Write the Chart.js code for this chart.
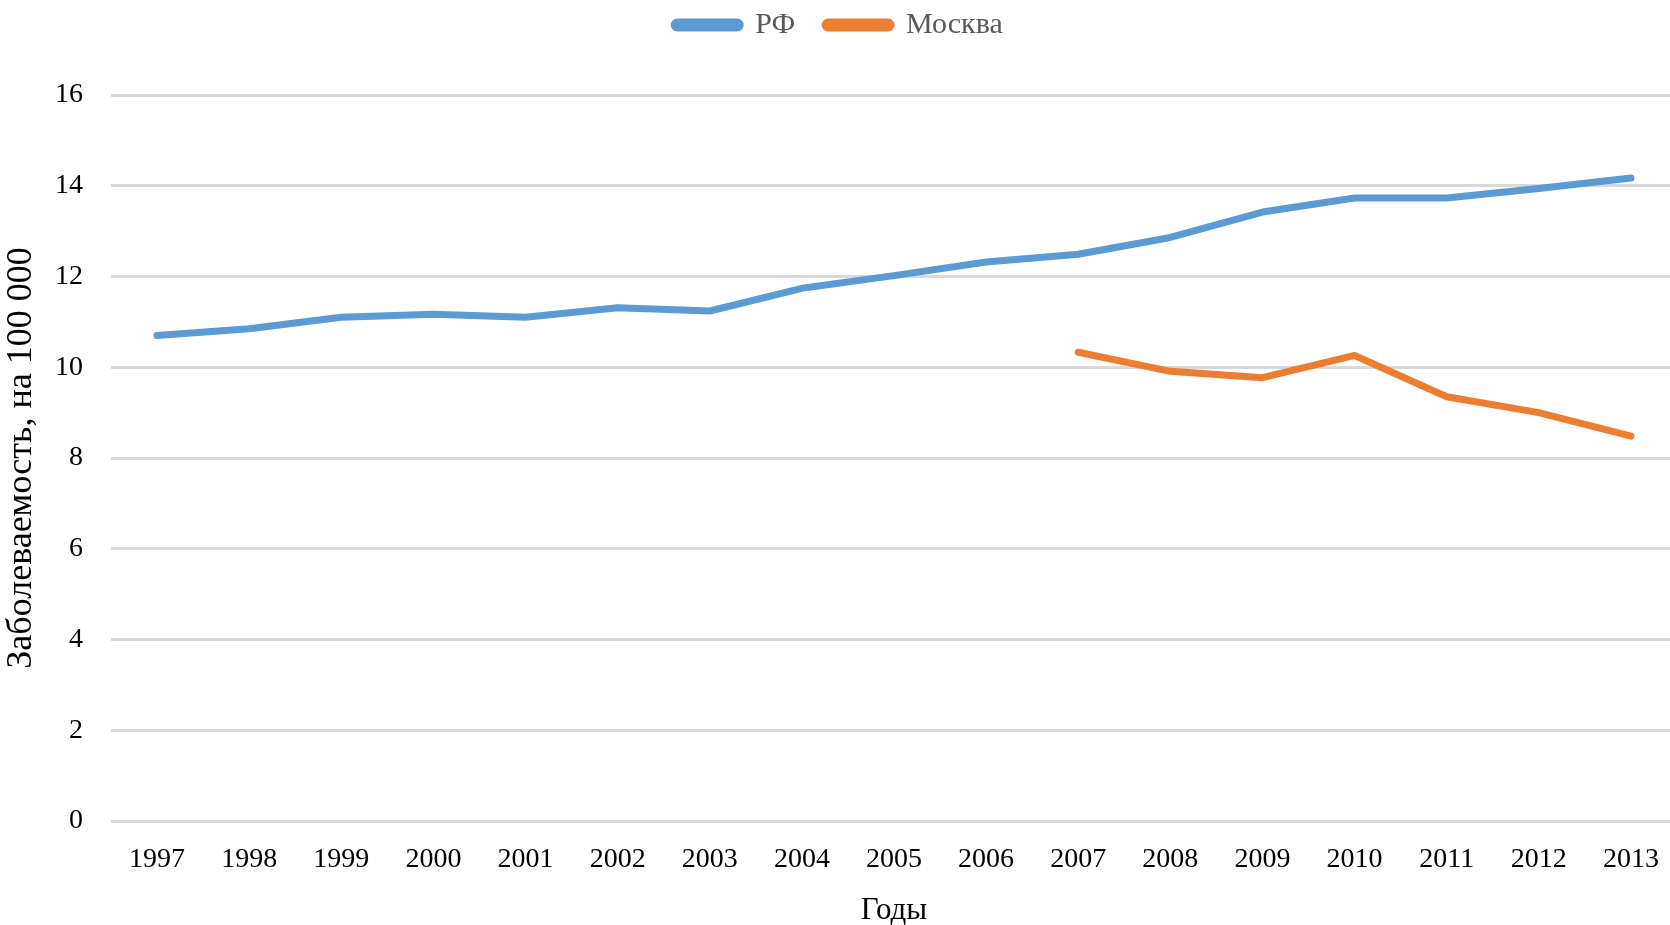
<!DOCTYPE html>
<html>
<head>
<meta charset="utf-8">
<script src="https://cdn.jsdelivr.net/npm/chart.js@4"></script>
<style>
  html, body { margin: 0; padding: 0; background: #ffffff; overflow: hidden; }
  #wrap { width: 1670px; height: 925px; overflow: hidden; }
</style>
</head>
<body>
<div id="wrap"><canvas id="c" width="1677" height="925"></canvas></div>
<script>
const years = ['1997','1998','1999','2000','2001','2002','2003','2004','2005','2006','2007','2008','2009','2010','2011','2012','2013'];
const rfValues = [10.70, 10.85, 11.10, 11.17, 11.10, 11.31, 11.24, 11.74, 12.02, 12.32, 12.49, 12.86, 13.42, 13.73, 13.73, 13.94, 14.17];
const moscowValues = [null, null, null, null, null, null, null, null, null, null, 10.33, 9.91, 9.77, 10.26, 9.35, 9.00, 8.48];
const seriesNames = ['РФ', 'Москва'];
const yTitle = 'Заболеваемость, на 100 000';
const xTitle = 'Годы';

const FONT = "'Liberation Serif', 'Times New Roman', serif";

const legendSpacer = {
  id: 'legendSpacer',
  beforeInit(chart) {
    const origFit = chart.legend.fit;
    chart.legend.fit = function () {
      origFit.bind(chart.legend)();
      this.height += 45;
    };
  }
};

new Chart(document.getElementById('c'), {
  type: 'line',
  data: {
    labels: years,
    datasets: [
      { label: seriesNames[0], data: rfValues, borderColor: '#5B9BD5', backgroundColor: '#5B9BD5',
        borderWidth: 7, pointRadius: 0, tension: 0, borderCapStyle: 'round', borderJoinStyle: 'round' },
      { label: seriesNames[1], data: moscowValues, borderColor: '#ED7D31', backgroundColor: '#ED7D31',
        borderWidth: 7, pointRadius: 0, tension: 0, borderCapStyle: 'round', borderJoinStyle: 'round', spanGaps: false }
    ]
  },
  plugins: [legendSpacer],
  options: {
    responsive: false,
    animation: false,
    layout: { padding: { top: -20, right: 0, left: 0, bottom: 0 } },
    plugins: {
      tooltip: { enabled: false },
      legend: {
        position: 'top',
        labels: {
          color: '#595959',
          font: { family: FONT, size: 30 },
          boxWidth: 66, boxHeight: 6, padding: 30,
          useBorderRadius: true, borderRadius: 3
        }
      }
    },
    scales: {
      x: {
        offset: true,
        grid: { display: false, drawTicks: false },
        border: { display: false },
        ticks: { color: '#000', font: { family: FONT, size: 28 }, padding: 22, maxRotation: 0, autoSkip: false },
        title: { display: true, text: xTitle, color: '#000', font: { family: FONT, size: 31 }, padding: { top: 15, bottom: -4 } },
        afterFit: (axis) => { axis.height = 104; axis.paddingRight = 0; axis.paddingLeft = 0; }
      },
      y: {
        min: 0, max: 16,
        ticks: { stepSize: 2, color: '#000', font: { family: FONT, size: 28 }, padding: 28 },
        grid: { color: '#d9d9d9', lineWidth: 3, drawTicks: false },
        border: { display: false },
        title: { display: true, text: yTitle, color: '#000', font: { family: FONT, size: 36 }, padding: { top: 0, bottom: 0 } },
        afterFit: (axis) => { axis.width = 111; }
      }
    }
  }
});
</script>
</body>
</html>
